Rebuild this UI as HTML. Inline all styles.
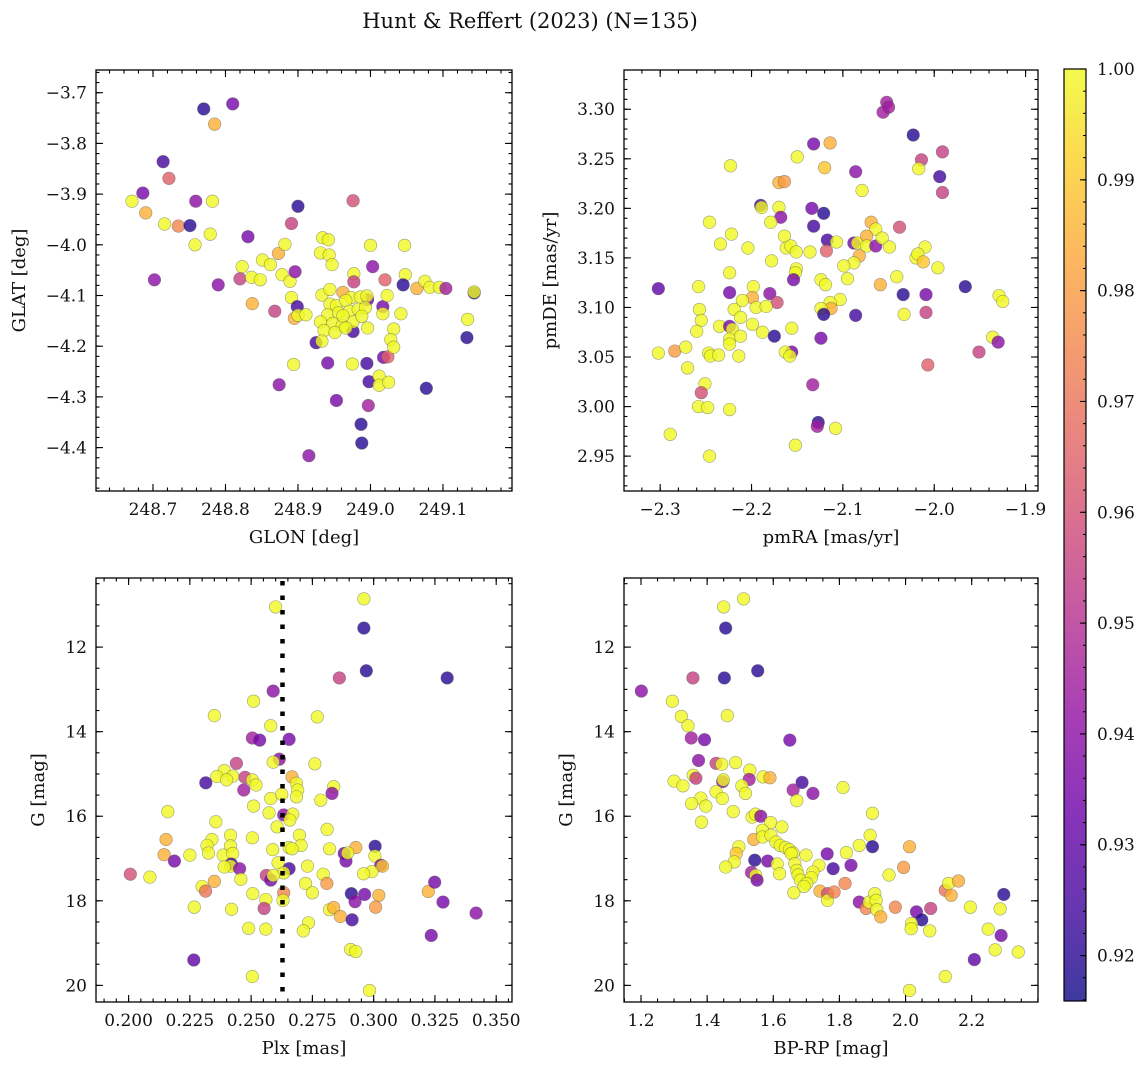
<!DOCTYPE html>
<html><head><meta charset="utf-8"><title>Hunt &amp; Reffert (2023)</title>
<style>
html,body{margin:0;padding:0;background:#fff;}
svg{display:block;font-family:"DejaVu Serif","Liberation Serif",serif;}
</style></head>
<body>
<svg id="fig" xmlns="http://www.w3.org/2000/svg" width="1148" height="1068" viewBox="0 0 1148 1068"></svg>
<script>
// ---------- Panel 1: GLON vs GLAT ----------
const glon = [
248.770,248.810,248.785,248.714,248.722,248.686,248.671,248.759,248.782,248.690,
248.716,248.735,248.751,248.779,248.758,248.702,248.790,248.831,248.900,248.891,
248.976,248.823,248.820,248.836,248.848,248.851,248.862,248.873,248.882,248.878,
248.889,248.896,248.837,248.868,248.891,248.899,248.895,248.900,248.911,248.934,
248.942,248.931,248.943,248.947,249.000,249.047,249.003,248.977,248.977,249.020,
249.048,249.045,249.064,249.075,249.082,249.095,249.104,249.143,249.143,249.134,
249.133,248.976,248.925,248.996,249.017,248.998,248.941,248.995,249.018,249.024,
248.933,248.944,248.962,248.973,248.986,248.995,248.944,248.953,248.966,248.941,
248.956,248.971,248.983,248.993,248.931,248.948,248.961,248.976,248.988,248.936,
248.951,248.966,248.933,248.996,249.023,249.017,249.042,249.032,249.028,249.032,
248.975,248.894,249.012,249.012,249.025,249.077,248.874,248.953,248.997,248.987,
248.988,248.915,248.962];
const glat = [
-3.732,-3.722,-3.762,-3.836,-3.869,-3.898,-3.914,-3.914,-3.914,-3.937,
-3.959,-3.963,-3.962,-3.979,-4.000,-4.069,-4.079,-3.984,-3.924,-3.958,
-3.913,-4.043,-4.067,-4.064,-4.069,-4.030,-4.039,-4.017,-3.999,-4.059,
-4.072,-4.053,-4.116,-4.131,-4.104,-4.122,-4.145,-4.139,-4.138,-3.986,
-3.990,-4.016,-4.020,-4.039,-4.001,-4.001,-4.043,-4.057,-4.073,-4.069,
-4.059,-4.079,-4.086,-4.072,-4.084,-4.084,-4.086,-4.095,-4.093,-4.147,
-4.183,-4.171,-4.193,-4.108,-4.122,-4.270,-4.233,-4.234,-4.222,-4.221,
-4.099,-4.088,-4.094,-4.104,-4.103,-4.101,-4.117,-4.120,-4.110,-4.138,
-4.134,-4.131,-4.127,-4.124,-4.152,-4.155,-4.159,-4.152,-4.141,-4.169,
-4.173,-4.164,-4.190,-4.164,-4.100,-4.136,-4.136,-4.166,-4.187,-4.202,
-4.235,-4.236,-4.259,-4.277,-4.271,-4.283,-4.276,-4.307,-4.317,-4.354,
-4.391,-4.416,-4.140];
const prob1 = [
.92,.935,.985,.925,.965,.935,1,.94,1,.985,
1,.975,.92,1,1,.94,.94,.935,.92,.955,
.96,1,.955,1,1,1,1,.985,1,1,
1,.94,.985,.955,1,.925,.985,1,1,1,
1,1,1,1,1,1,.94,1,.955,.965,
1,.92,.985,1,1,1,.945,.92,1,1,
.92,.925,.925,.935,.935,.925,.935,.925,.935,.965,
1,1,.985,1,1,1,1,1,1,1,
1,1,1,1,1,1,1,1,1,1,
1,1,1,1,1,1,1,1,1,1,
1,1,1,1,1,.92,.94,.935,.945,.92,
.92,.94,1];
const p1XTicks = [248.7,248.8,248.9,249.0,249.1];
const p1YTicks = [-3.7,-3.8,-3.9,-4.0,-4.1,-4.2,-4.3,-4.4];

// ---------- Panel 2: pmRA vs pmDE ----------
const pmra = [
-2.052,-2.056,-2.050,-2.023,-2.132,-2.114,-2.150,-2.223,-2.120,-2.086,
-1.991,-2.014,-2.017,-1.994,-1.991,-2.170,-2.164,-2.079,-2.190,-2.189,
-2.170,-2.134,-2.121,-2.168,-2.179,-2.246,-2.132,-2.069,-2.038,-2.064,
-2.222,-2.164,-2.234,-2.204,-2.162,-2.157,-2.151,-2.136,-2.117,-2.107,
-2.118,-2.088,-2.084,-2.074,-2.074,-2.064,-2.057,-2.049,-2.082,-2.088,
-2.099,-2.095,-2.178,-2.224,-2.151,-2.152,-2.154,-2.020,-2.010,-2.018,
-2.012,-1.996,-2.041,-2.034,-2.009,-2.033,-2.009,-2.059,-2.124,-2.119,
-1.966,-1.929,-1.925,-2.302,-2.258,-2.224,-2.198,-2.199,-2.180,-2.172,
-2.210,-2.195,-2.184,-2.219,-2.257,-2.255,-2.260,-2.235,-2.212,-2.199,
-2.188,-2.224,-2.221,-2.103,-2.114,-2.113,-2.124,-2.121,-2.086,-2.156,
-2.175,-2.124,-2.224,-2.212,-2.224,-2.302,-2.284,-2.272,-2.270,-2.247,
-2.245,-2.236,-2.214,-2.156,-2.163,-2.158,-1.936,-1.930,-1.951,-2.007,
-2.133,-2.251,-2.255,-2.258,-2.248,-2.224,-2.127,-2.128,-2.108,-2.289,
-2.152,-2.246];
const pmde = [
3.307,3.297,3.302,3.274,3.265,3.266,3.252,3.243,3.241,3.237,
3.257,3.249,3.240,3.232,3.216,3.226,3.227,3.218,3.203,3.201,
3.201,3.200,3.195,3.191,3.186,3.186,3.182,3.186,3.181,3.179,
3.174,3.172,3.164,3.160,3.160,3.162,3.156,3.156,3.168,3.166,
3.157,3.165,3.165,3.172,3.162,3.162,3.170,3.161,3.152,3.145,
3.142,3.129,3.147,3.135,3.139,3.135,3.128,3.150,3.161,3.154,
3.146,3.140,3.131,3.113,3.113,3.093,3.095,3.123,3.128,3.123,
3.121,3.112,3.106,3.119,3.121,3.115,3.121,3.110,3.114,3.105,
3.107,3.100,3.101,3.098,3.098,3.087,3.076,3.081,3.090,3.083,
3.075,3.081,3.078,3.108,3.105,3.099,3.099,3.093,3.092,3.079,
3.071,3.069,3.068,3.071,3.063,3.054,3.056,3.060,3.039,3.054,
3.051,3.052,3.051,3.055,3.055,3.051,3.070,3.065,3.055,3.042,
3.022,3.023,3.014,3.000,2.999,2.997,2.984,2.980,2.978,2.972,
2.961,2.950];
const prob2 = [
.945,.945,.945,.92,.935,.985,1,1,.99,.94,
.955,.955,1,.925,.955,.985,.98,1,.925,1,
1,.935,.92,.94,1,1,.925,.985,.96,1,
1,1,1,1,1,1,1,1,.925,1,
.965,.935,1,.985,1,.94,1,1,.985,1,
1,1,1,1,1,1,.935,1,1,1,
.99,1,1,.92,.935,1,.955,.985,1,1,
.92,1,1,.93,1,.935,1,.985,.94,.96,
1,1,1,1,1,1,1,1,1,1,
1,.935,1,1,1,.985,1,.92,.925,1,
.92,.935,1,1,1,1,.98,1,1,1,
1,1,1,.935,1,1,1,.94,.955,.965,
.945,1,.96,1,1,1,.92,.945,1,1,
1,1];
const p2XTicks = [-2.3,-2.2,-2.1,-2.0,-1.9];
const p2YTicks = [3.30,3.25,3.20,3.15,3.10,3.05,3.00,2.95];

// ---------- Panel 3: Plx vs G ----------
const plx = [
.296,.260,.296,.297,.330,.286,.259,.251,.235,.277,
.258,.2505,.2535,.2655,.2615,.259,.244,.276,.239,.236,
.2425,.240,.2315,.2475,.2505,.252,.247,.2667,.2685,.269,
.2685,.2837,.283,.258,.2625,.2784,.251,.2573,.216,.2633,
.267,.2658,.2606,.2356,.281,.2153,.2416,.2505,.2697,.2704,
.234,.232,.2326,.2416,.2588,.2655,.2667,.282,.2927,.3006,
.3005,.288,.2887,.2894,.2145,.2187,.225,.2386,.2425,.2419,
.2416,.239,.2453,.2458,.261,.2655,.2633,.2562,.258,.259,
.273,.2722,.275,.2794,.2809,.3029,.3036,.2993,.2959,.2007,
.2087,.235,.230,.2314,.2507,.2633,.263,.256,.2553,.2909,
.2963,.3021,.2924,.3008,.3223,.3249,.3283,.3418,.2268,.242,
.282,.2837,.2864,.2912,.2734,.2713,.249,.256,.3235,.2906,
.2927,.2266,.2505,.2983];
const gmag3 = [
10.86,11.05,11.55,12.56,12.73,12.73,13.04,13.28,13.62,13.65,
13.86,14.15,14.20,14.18,14.65,14.72,14.75,14.76,14.92,15.06,
15.05,15.14,15.21,15.08,15.14,15.26,15.38,15.07,15.22,15.38,
15.54,15.30,15.46,15.58,15.48,15.62,15.76,15.92,15.89,15.97,
15.95,16.09,16.25,16.13,16.31,16.55,16.45,16.51,16.45,16.69,
16.55,16.69,16.87,16.70,16.79,16.74,16.77,16.77,16.74,16.71,
16.94,16.88,17.06,16.87,16.91,17.06,16.92,16.92,16.88,17.13,
17.18,17.20,17.24,17.49,17.10,17.24,17.34,17.40,17.51,17.40,
17.18,17.59,17.81,17.37,17.59,17.16,17.18,17.31,17.36,17.37,
17.44,17.54,17.66,17.77,17.83,17.81,17.99,17.97,18.18,17.83,
17.85,17.87,18.02,18.15,17.78,17.56,18.03,18.29,18.15,18.20,
18.21,18.16,18.37,18.45,18.52,18.71,18.65,18.67,18.82,19.15,
19.20,19.40,19.79,20.12];
const prob3 = [
1,1,.92,.92,.92,.955,.94,1,1,1,
1,.945,.935,.935,.94,1,.955,1,1,1,
1,1,.925,.955,1,1,.945,.985,1,1,
1,1,.94,1,1,1,1,1,1,.94,
1,1,1,1,1,.985,1,1,1,1,
1,1,1,1,1,1,1,1,.985,.92,
1,.935,.935,1,.985,.935,1,1,1,.925,
1,1,.94,1,1,.925,1,.955,.935,1,
1,1,1,1,.98,.935,.99,1,1,.96,
1,.985,1,.97,1,.975,1,1,.955,.92,
.935,.985,.94,.98,.985,.935,.935,.94,1,1,
1,.985,.985,.925,1,1,1,1,.935,1,
1,.93,1,1];
const plxRef = [0.2628];
const p3XTicks = [0.200,0.225,0.250,0.275,0.300,0.325,0.350];
const gTicks = [12,14,16,18,20];

// ---------- Panel 4: BP-RP vs G ----------
const bprp = [
1.510,1.450,1.456,1.553,1.452,1.357,1.201,1.295,1.322,1.342,
1.461,1.352,1.392,1.650,1.374,1.427,1.444,1.486,1.529,1.358,
1.366,1.300,1.327,1.447,1.449,1.527,1.569,1.590,1.505,1.516,
1.687,1.660,1.720,1.811,1.427,1.446,1.381,1.353,1.396,1.671,
1.479,1.383,1.536,1.546,1.562,1.592,1.626,1.567,1.541,1.568,
1.593,1.900,1.893,1.900,1.860,1.608,1.621,1.637,1.649,1.660,
1.654,1.496,1.488,1.482,1.456,1.699,1.763,1.821,1.544,1.583,
1.612,1.665,1.671,1.675,1.682,1.738,1.720,1.715,1.701,1.781,
1.835,1.534,1.547,1.551,1.619,1.693,1.994,1.950,1.662,1.741,
1.764,1.764,1.784,1.817,1.860,1.881,1.890,1.907,1.911,1.913,
1.925,1.969,2.012,2.033,2.049,2.018,2.017,2.073,2.076,2.120,
2.130,2.138,2.160,2.196,2.297,2.286,2.250,2.289,2.271,2.341,
2.208,2.120,2.012];
const gmag4 = [
10.86,11.05,11.55,12.56,12.73,12.73,13.04,13.28,13.64,13.86,
13.62,14.15,14.19,14.20,14.68,14.75,14.77,14.73,14.91,15.03,
15.10,15.17,15.28,15.18,15.14,15.13,15.07,15.09,15.28,15.46,
15.20,15.38,15.46,15.32,15.42,15.58,15.57,15.70,15.76,15.63,
15.89,16.14,16.02,15.95,16.00,16.15,16.25,16.33,16.55,16.49,
16.45,15.93,16.45,16.72,16.69,16.61,16.69,16.74,16.79,16.87,
16.88,16.72,16.88,17.08,17.20,16.92,16.89,16.86,17.04,17.06,
17.13,17.12,17.28,17.39,17.51,17.16,17.32,17.45,17.59,17.24,
17.16,17.33,17.40,17.51,17.36,17.66,17.21,17.39,17.81,17.77,
17.83,17.99,17.79,17.59,18.03,18.18,18.03,17.83,17.99,18.21,
18.38,18.15,16.72,18.26,18.45,18.54,18.66,18.71,18.18,17.75,
17.59,17.87,17.53,18.15,17.85,18.19,18.67,18.82,19.16,19.21,
19.39,19.79,20.12];
const prob4 = [
1,1,.92,.92,.92,.955,.94,1,1,1,
1,.945,.935,.935,.94,.955,1,1,1,1,
.955,1,1,.94,1,.945,1,.985,1,1,
.925,.945,.94,1,1,1,1,1,1,1,
1,1,1,1,.94,1,1,1,.985,1,
1,1,1,.92,1,1,1,1,1,1,
1,1,.99,1,1,1,.935,1,.92,.935,
1,1,1,1,1,1,1,1,1,.925,
.935,.945,1,.935,1,1,.98,1,1,.985,
.96,1,.975,.975,.94,.975,1,1,1,1,
.985,.975,.985,.935,.92,1,1,1,.955,.97,
1,.985,.985,1,.92,1,1,.935,1,1,
.93,1,1];
const p4XTicks = [1.2,1.4,1.6,1.8,2.0,2.2];

// ---------- Colorbar ----------
const cbTicks = [1.00,0.99,0.98,0.97,0.96,0.95,0.94,0.93,0.92];
const cbRange = [0.9159,1.0];

const NS = 'http://www.w3.org/2000/svg';
const svg = document.getElementById('fig');
function el(tag, parent){ const e = document.createElementNS(NS, tag); parent.appendChild(e); return e; }
function setA(e, o){ for (const k in o) e.setAttribute(k, o[k]); }

const plasmaStops = [[13,8,135],[65,4,157],[106,0,168],[143,13,164],[177,42,144],[204,71,120],[225,100,98],[242,132,75],[252,166,54],[252,206,37],[240,249,33]];
function plasma(t){
  t = Math.max(0, Math.min(1, t));
  const f = t*10, i = Math.min(9, Math.floor(f)), u = f - i;
  const a = plasmaStops[i], b = plasmaStops[i+1];
  return 'rgb(' + [0,1,2].map(k => Math.round(a[k] + (b[k]-a[k])*u)).join(',') + ')';
}
function cnorm(v){ return (v - cbRange[0])/(cbRange[1]-cbRange[0]); }
function fmt(v, d){ const s = Math.abs(v).toFixed(d); return (v < -1e-9 ? '\u2212' : '') + s; }

// title
const title = el('text', svg);
setA(title, {x:530, y:28, 'text-anchor':'middle', 'font-size':'21px', fill:'#111'});


title.textContent = 'Hunt & Reffert (2023) (N=135)';

function panel(cfg){
  const g = el('g', svg);
  
  
  const {l,t,r,b} = cfg.box;
  const sx = v => l + (v - cfg.xr[0])/(cfg.xr[1]-cfg.xr[0])*(r-l);
  const sy = v => t + (v - cfg.yTop)/(cfg.yBot - cfg.yTop)*(b-t);
  const clipId = cfg.name + '-clip';
  const cp = el('clipPath', g); cp.setAttribute('id', clipId);
  const cr = el('rect', cp); setA(cr, {x:l, y:t, width:r-l, height:b-t});
  // points
  const pg = el('g', g);
  pg.setAttribute('clip-path', 'url(#' + clipId + ')');
  
  
  for (let i = 0; i < cfg.xs.length; i++){
    const c = el('circle', pg);
    setA(c, {cx:sx(cfg.xs[i]).toFixed(2), cy:sy(cfg.ys[i]).toFixed(2), r:6.3,
      fill:plasma(cnorm(cfg.cs[i])), 'fill-opacity':0.8, stroke:'#555', 'stroke-opacity':0.55, 'stroke-width':0.6});
    
    
  }
  if (cfg.vline){
    for (const v of cfg.vline){
      const ln = el('line', g);
      setA(ln, {x1:sx(v), x2:sx(v), y1:t+3, y2:b, stroke:'#000', 'stroke-width':4.5, 'stroke-dasharray':'4.5 10'});
      
      
    }
  }
  // ticks
  const tg = el('g', g);
  
  
  function tick(x1,y1,x2,y2){ const ln = el('line', tg); setA(ln, {x1,y1,x2,y2,stroke:'#000','stroke-width':1.1}); }
  const nx0 = Math.ceil(cfg.xr[0]/cfg.xMinor - 1e-6), nx1 = Math.floor(cfg.xr[1]/cfg.xMinor + 1e-6);
  for (let k = nx0; k <= nx1; k++){ const x = sx(k*cfg.xMinor); tick(x,b,x,b-3.5); tick(x,t,x,t+3.5); }
  const ylo = Math.min(cfg.yTop, cfg.yBot), yhi = Math.max(cfg.yTop, cfg.yBot);
  const ny0 = Math.ceil(ylo/cfg.yMinor - 1e-6), ny1 = Math.floor(yhi/cfg.yMinor + 1e-6);
  for (let k = ny0; k <= ny1; k++){ const y = sy(k*cfg.yMinor); tick(l,y,l+3.5,y); tick(r,y,r-3.5,y); }
  for (const v of cfg.xTicks){
    const x = sx(v); tick(x,b,x,b-7); tick(x,t,x,t+7);
    const tx = el('text', g);
    setA(tx, {x:x, y:b+24, 'text-anchor':'middle', 'font-size':'17px', fill:'#111'});
    
    
    tx.textContent = fmt(v, cfg.xDec);
  }
  for (const v of cfg.yTicks){
    const y = sy(v); tick(l,y,l+7,y); tick(r,y,r-7,y);
    const tx = el('text', g);
    setA(tx, {x:l-9, y:y+6, 'text-anchor':'end', 'font-size':'17px', fill:'#111'});
    
    
    tx.textContent = fmt(v, cfg.yDec);
  }
  const fr = el('rect', g);
  setA(fr, {x:l, y:t, width:r-l, height:b-t, fill:'none', stroke:'#000', 'stroke-width':1.3});
  
  
  const xl = el('text', g);
  setA(xl, {x:(l+r)/2, y:b+52, 'text-anchor':'middle', 'font-size':'18px', fill:'#111'});
  
  
  xl.textContent = cfg.xLabel;
  const yl = el('text', g);
  setA(yl, {x:0, y:0, transform:'translate(' + cfg.yLabelX + ',' + (t+b)/2 + ') rotate(-90)', 'text-anchor':'middle', 'font-size':'18px', fill:'#111'});
  
  
  yl.textContent = cfg.yLabel;
}

panel({name:'glon-glat-panel', box:{l:96,t:70,r:512,b:491}, xr:[248.6214,249.1952], yTop:-3.6552, yBot:-4.4856,
  xs:glon, ys:glat, cs:prob1, xTicks:p1XTicks, yTicks:p1YTicks, xMinor:0.02, yMinor:0.02, xDec:1, yDec:1,
  xLabel:'GLON [deg]', yLabel:'GLAT [deg]', yLabelX:25});
panel({name:'pm-panel', box:{l:624,t:70,r:1038,b:491}, xr:[-2.3396,-1.8864], yTop:3.3396, yBot:2.9148,
  xs:pmra, ys:pmde, cs:prob2, xTicks:p2XTicks, yTicks:p2YTicks, xMinor:0.02, yMinor:0.01, xDec:1, yDec:2,
  xLabel:'pmRA [mas/yr]', yLabel:'pmDE [mas/yr]', yLabelX:556});
panel({name:'plx-g-panel', box:{l:96,t:578,r:512,b:1002}, xr:[0.1867,0.35645], yTop:10.366, yBot:20.393,
  xs:plx, ys:gmag3, cs:prob3, xTicks:p3XTicks, yTicks:gTicks, xMinor:0.005, yMinor:0.5, xDec:3, yDec:0,
  xLabel:'Plx [mas]', yLabel:'G [mag]', yLabelX:44, vline:plxRef});
panel({name:'cmd-panel', box:{l:624,t:578,r:1038,b:1002}, xr:[1.1486,2.4005], yTop:10.366, yBot:20.393,
  xs:bprp, ys:gmag4, cs:prob4, xTicks:p4XTicks, yTicks:gTicks, xMinor:0.05, yMinor:0.5, xDec:1, yDec:0,
  xLabel:'BP-RP [mag]', yLabel:'G [mag]', yLabelX:572});

// colorbar
(function(){
  const cl = 1064, cr = 1086, ct = 69, cb = 1001;
  const g = el('g', svg);
  
  
  const defs = el('defs', g);
  const lg = el('linearGradient', defs);
  setA(lg, {id:'plasmaGrad', x1:0, y1:1, x2:0, y2:0});
  for (let i = 0; i <= 20; i++){
    const s = el('stop', lg);
    setA(s, {offset:(i/20), 'stop-color':plasma(i/20), 'stop-opacity':0.8});
  }
  const rc = el('rect', g);
  setA(rc, {x:cl, y:ct, width:cr-cl, height:cb-ct, fill:'url(#plasmaGrad)', stroke:'#000', 'stroke-width':1.2});
  
  
  const sy = v => cb - (v - cbRange[0])/(cbRange[1]-cbRange[0])*(cb-ct);
  for (let k = Math.ceil(cbRange[0]/0.002 - 1e-6); k <= Math.floor(cbRange[1]/0.002 + 1e-6); k++){
    const y = sy(k*0.002);
    const ln = el('line', g); setA(ln, {x1:cr, x2:cr-3, y1:y, y2:y, stroke:'#000', 'stroke-width':1});
  }
  for (const v of cbTicks){
    const y = sy(v);
    const ln = el('line', g); setA(ln, {x1:cr, x2:cr-6, y1:y, y2:y, stroke:'#000', 'stroke-width':1.1});
    const tx = el('text', g);
    setA(tx, {x:1097, y:y+6, 'font-size':'17px', fill:'#111'});
    
    
    tx.textContent = v.toFixed(2);
  }
})();
</script>
</body></html>
